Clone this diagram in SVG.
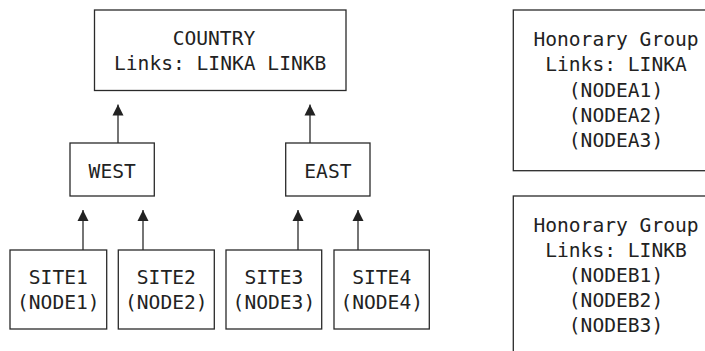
<svg xmlns="http://www.w3.org/2000/svg" width="705" height="351" viewBox="0 0 705 351">
<style>
.box{fill:#fff;stroke:#2a2a2a;stroke-width:1.3}
.t{font-family:"DejaVu Sans Mono","Liberation Mono",monospace;font-size:19.6px;fill:#222;text-anchor:middle}
.ts{text-anchor:start}
.c{stroke:#2a2a2a;stroke-width:1.3;fill:none;marker-end:url(#ah)}
</style>
<defs>
<marker id="ah" markerWidth="11" markerHeight="12" refX="11" refY="5.5" orient="auto" markerUnits="userSpaceOnUse" viewBox="0 0 11 11">
<path d="M0,0 L11,5.5 L0,11 Z" fill="#222"/>
</marker>
</defs>
<rect width="705" height="351" fill="#fff"/>
<g id="connectors">
<line class="c" x1="118" y1="143" x2="118" y2="104.5"/>
<line class="c" x1="310" y1="143" x2="310" y2="104.5"/>
<line class="c" x1="83" y1="250" x2="83" y2="210"/>
<line class="c" x1="143" y1="250" x2="143" y2="210"/>
<line class="c" x1="298" y1="250" x2="298" y2="210"/>
<line class="c" x1="358" y1="250" x2="358" y2="210"/>
</g>
<g id="country">
<rect class="box" x="94.5" y="10" width="251.5" height="80.5"/>
<text class="t ts" x="172.7" y="45">COUNTRY</text>
<text class="t ts" x="114" y="70">Links: LINKA LINKB</text>
</g>
<g id="west">
<rect class="box" x="70" y="143" width="84.3" height="53"/>
<text class="t" x="112.2" y="177.5">WEST</text>
</g>
<g id="east">
<rect class="box" x="285.7" y="143" width="84.3" height="53"/>
<text class="t" x="327.9" y="177.5">EAST</text>
</g>
<g id="site1">
<rect class="box" x="10" y="250" width="96.7" height="79"/>
<text class="t" x="58.3" y="284">SITE1</text>
<text class="t" x="58.3" y="309">(NODE1)</text>
</g>
<g id="site2">
<rect class="box" x="118.3" y="250" width="96" height="79"/>
<text class="t" x="166.3" y="284">SITE2</text>
<text class="t" x="166.3" y="309">(NODE2)</text>
</g>
<g id="site3">
<rect class="box" x="226" y="250" width="95.7" height="79"/>
<text class="t" x="273.9" y="284">SITE3</text>
<text class="t" x="273.9" y="309">(NODE3)</text>
</g>
<g id="site4">
<rect class="box" x="334" y="250" width="95.3" height="79"/>
<text class="t" x="381.7" y="284">SITE4</text>
<text class="t" x="381.7" y="309">(NODE4)</text>
</g>
<g id="honorary-a">
<rect class="box" x="513.3" y="10" width="210" height="160.7"/>
<text class="t" x="616" y="46">Honorary Group</text>
<text class="t" x="616" y="71">Links: LINKA</text>
<text class="t" x="616" y="96.5">(NODEA1)</text>
<text class="t" x="616" y="121.5">(NODEA2)</text>
<text class="t" x="616" y="146.5">(NODEA3)</text>
</g>
<g id="honorary-b">
<rect class="box" x="513.3" y="196" width="210" height="170"/>
<text class="t" x="616" y="231.5">Honorary Group</text>
<text class="t" x="616" y="257">Links: LINKB</text>
<text class="t" x="616" y="282">(NODEB1)</text>
<text class="t" x="616" y="307">(NODEB2)</text>
<text class="t" x="616" y="332">(NODEB3)</text>
</g>
</svg>
